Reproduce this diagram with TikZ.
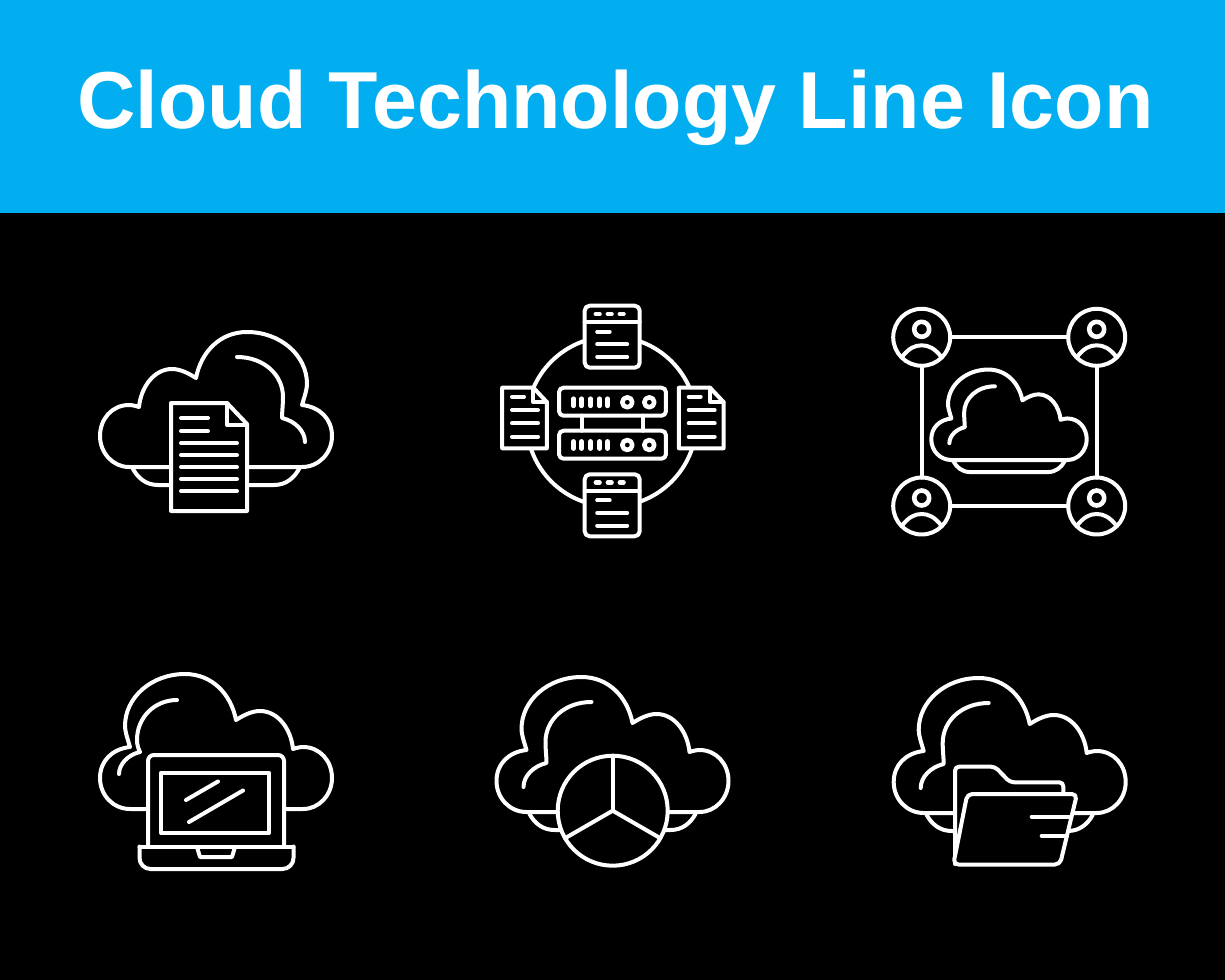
\documentclass[tikz,border=0pt]{standalone}
\usepackage{fontspec}
\setmainfont{Liberation Sans}
\definecolor{bannerblue}{RGB}{2,174,240}

\begin{document}
\begin{tikzpicture}[x=0.02cm, y=-0.02cm, line join=round, line cap=round]
    \tikzset{
        icon/.style={draw=white, line width=0.08cm},
        iconfill/.style={icon, fill=black},
        pill/.style={draw=white, line width=0.092cm},
        rack/.style={iconfill, rounded corners=0.09cm, minimum width=2.14cm, minimum height=0.56cm, inner sep=0pt, outer sep=0pt},
        dial/.style={pill, circle, minimum size=0.2cm, inner sep=0pt, outer sep=0pt},
        person/.style={iconfill, circle, minimum size=1.14cm, inner sep=0pt, outer sep=0pt},
        pics/cloudshape/.style={code={
            \draw[icon] (-86,0) .. controls (-103,0) and (-116,-14) .. (-116,-31)
                .. controls (-116,-48) and (-104,-60) .. (-86,-62)
                .. controls (-89,-72) and (-91,-78) .. (-91,-83)
                .. controls (-91,-112) and (-64,-135) .. (-31,-135)
                .. controls (-4,-135) and (15,-115) .. (20,-89)
                .. controls (28,-94) and (36,-98) .. (44,-98)
                .. controls (62,-98) and (75,-80) .. (77,-60)
                .. controls (80,-61) and (84,-62) .. (87,-62)
                .. controls (104,-62) and (116,-48) .. (116,-31)
                .. controls (116,-14) and (103,0) .. (87,0) -- cycle;
        }},
        pics/cloudglint/.style={code={
            \draw[icon] (-21,-110) .. controls (-48,-110) and (-67,-92) .. (-67,-70)
                .. controls (-67,-62) and (-66,-55) .. (-66,-49)
                .. controls (-79,-46) and (-89,-36) .. (-89,-25);
        }},
        pics/cloudbase/.style={code={
            \draw[icon] (-83,2) .. controls (-78,11) and (-70,18) .. (-58,18) -- (58,18)
                .. controls (70,18) and (78,11) .. (83,2);
        }},
        pics/windowbox/.style={code={
            \draw[iconfill, rounded corners=0.1cm] (-27.5,-31) rectangle (27.5,31);
            \draw[icon] (-27.5,-14.4) -- (27.5,-14.4);
            \foreach \x in {-14.5,-2.5,9.5} {
                \draw[pill] (\x-1.8,-22.7) -- (\x+1.8,-22.7);
            }
            \draw[icon] (-15,-5) -- (-2.5,-5);
            \draw[icon] (-15,7.6) -- (15,7.6);
            \draw[icon] (-15,20.3) -- (15,20.3);
        }},
        pics/filebox/.style={code={
            \draw[iconfill] (-22.3,-30.3) -- (8.8,-30.3) -- (22.3,-16) -- (22.3,30.3) -- (-22.3,30.3) -- cycle;
            \draw[icon] (8.8,-30.3) -- (8.8,-16) -- (22.3,-16);
            \draw[icon] (-12.5,-21.3) -- (-0.5,-21.3);
            \foreach \y in {-8,5.3,18.7} {
                \draw[icon] (-12.5,\y) -- (13.5,\y);
            }
        }},
        pics/rackmarks/.style={code={
            \foreach \x in {-39,-31,-22,-13,-5} {
                \draw[pill] (\x,-3.6) -- (\x,3.6);
            }
        }},
        pics/userface/.style={code={
            \draw[pill] (0,-8) circle (7.5);
            \draw[icon] (-20,20) .. controls (-13,11) and (-7,8) .. (0,8)
                .. controls (7,8) and (13,11) .. (20,20);
        }}
    };

    \useasboundingbox (0,0) rectangle (1225,980);
    \fill[black] (0,0) rectangle (1225,980);
    \fill[bannerblue] (0,0) rectangle (1225,213);
    \node[text=white, font=\fontsize{46}{52}\selectfont\bfseries] (title) at (615.5,107.5) {Cloud Technology Line Icon};

    % cloud with document
    \pic[xscale=-1] at (216,467) {cloudbase};
    \pic[xscale=-1] at (216,467) {cloudshape};
    \pic[xscale=-1] at (216,467) {cloudglint};
    \draw[iconfill] (171,403) -- (227,403) -- (247,424) -- (247,511) -- (171,511) -- cycle;
    \draw[icon] (227,403) -- (227,425) -- (247,425);
    \foreach \y/\e in {418/208, 431/208, 443/237, 455/237, 467/237, 479/237, 491/237} {
        \draw[icon] (181,\y) -- (\e,\y);
    }

    % servers
    \draw[icon] (611.5,421.5) circle (85);
    \pic at (612.2,336.7) {windowbox};
    \pic at (612.2,505.3) {windowbox};
    \pic at (524.5,418) {filebox};
    \pic at (701.2,418) {filebox};
    \node[rack] (rackA) at (612.5,401.7) {};
    \node[rack] (rackB) at (612.5,444.7) {};
    \draw[icon] ([xshift=-0.616cm]rackA.south) -- ([xshift=-0.616cm]rackB.north);
    \draw[icon] ([xshift=0.604cm]rackA.south) -- ([xshift=0.604cm]rackB.north);
    \pic at (612.5,402.3) {rackmarks};
    \pic at (612.5,445) {rackmarks};
    \foreach \n/\y in {rackA/402.3, rackB/445} {
        \node[dial] (\n L) at (627.3,\y) {};
        \node[dial] (\n R) at (649.3,\y) {};
    }

    % cloud with people
    \node[person] (userA) at (921.7,337.3) {};
    \node[person] (userB) at (1096.7,337.3) {};
    \node[person] (userC) at (921.7,506) {};
    \node[person] (userD) at (1096.7,506) {};
    \draw[icon] (userA) -- (userB);
    \draw[icon] (userB) -- (userD);
    \draw[icon] (userD) -- (userC);
    \draw[icon] (userC) -- (userA);
    \foreach \n in {userA, userB, userC, userD} {
        \pic at (\n) {userface};
    }
    \pic[scale=0.67] at (1009,460) {cloudbase};
    \pic[scale=0.67] at (1009,460) {cloudshape};
    \pic[scale=0.67] at (1009,460) {cloudglint};

    % cloud with laptop
    \pic at (216,809) {cloudshape};
    \draw[icon] (177,700) .. controls (155,700) and (137,717) .. (137,740)
        .. controls (137,744) and (138,748) .. (140,752)
        .. controls (127,755) and (119,765) .. (119,774);
    \draw[iconfill, rounded corners=0.12cm] (148,846) -- (148,755) -- (284,755) -- (284,846);
    \draw[icon] (161,772.7) rectangle (269,833);
    \draw[icon] (186,800) -- (218,781.5);
    \draw[icon] (189,822) -- (243,790.5);
    \draw[iconfill, rounded corners=0.22cm] (139.5,846.5) -- (139.5,869) -- (293.5,869) -- (293.5,846.5);
    \draw[icon] (139.5,846.5) -- (293.5,846.5);
    \draw[icon] (197,847) -- (200,857) -- (232,857) -- (235,847);

    % cloud with pie chart
    \pic at (612.5,812) {cloudbase};
    \pic at (612.5,812) {cloudshape};
    \pic at (612.5,812) {cloudglint};
    \node[iconfill, circle, minimum size=2.2cm, inner sep=0pt, outer sep=0pt] (pie) at (612.7,810.7) {};
    \draw[icon] (pie.center) -- (pie.90);
    \draw[icon] (pie.center) -- (pie.210);
    \draw[icon] (pie.center) -- (pie.330);

    % cloud with folder
    \pic at (1009.7,813) {cloudbase};
    \pic at (1009.7,813) {cloudshape};
    \pic at (1009.7,813) {cloudglint};
    \draw[iconfill, rounded corners=0.08cm] (955,864) -- (955,766.7) -- (995,766.7) -- (1010,782.3) -- (1063.3,782.3) -- (1063.3,800);
    \draw[iconfill, rounded corners=0.1cm] (967.3,794) -- (1077,794) -- (1060,864.5) -- (953.3,864.5) -- cycle;
    \draw[icon] (1031.7,816.7) -- (1071,816.7);
    \draw[icon] (1041.7,835.7) -- (1066.7,835.7);
\end{tikzpicture}
\end{document}
